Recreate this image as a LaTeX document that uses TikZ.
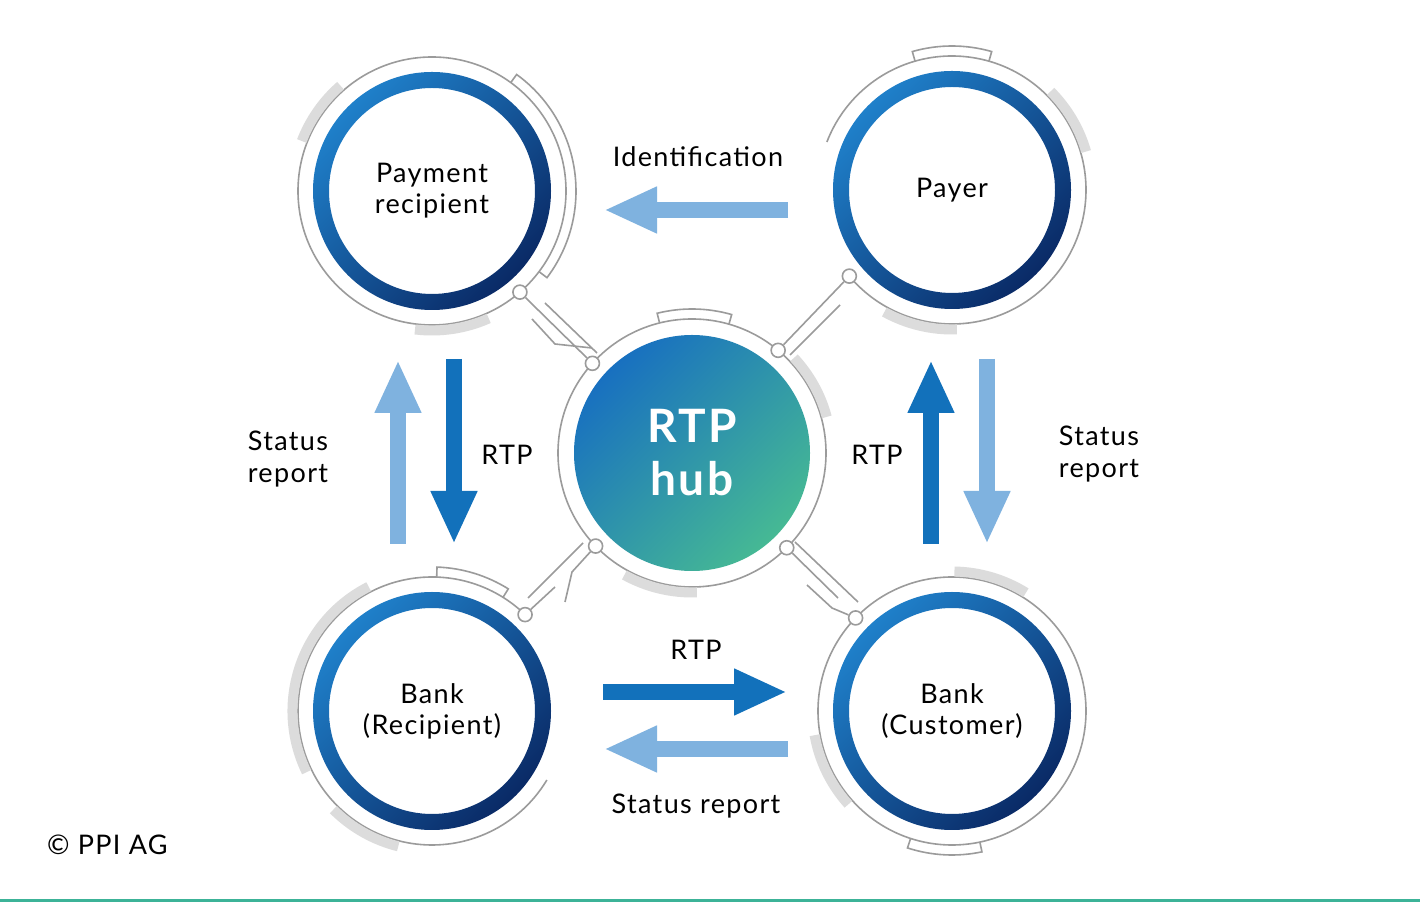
\documentclass[tikz,border=0pt]{standalone}
\usepackage{fontspec}
\setmainfont{Lato}[LetterSpace=5]
\usetikzlibrary{arrows.meta,positioning}

\definecolor{ringlight}{HTML}{1F80CA}
\definecolor{ringdark}{HTML}{0A2A66}
\definecolor{hubblue}{HTML}{1870C0}
\definecolor{hubgreen}{HTML}{46B994}
\definecolor{rtpblue}{HTML}{1271BB}
\definecolor{statusblue}{HTML}{7FB2DF}
\definecolor{linegrey}{HTML}{9B9B9B}
\definecolor{archgrey}{HTML}{DCDCDC}
\definecolor{tealline}{HTML}{3CB398}

\tikzset{
  member/.style={circle, minimum size=103pt, align=center, font=\fontsize{13.5}{15.5}\selectfont},
  bluering/.style={top color=ringlight, bottom color=ringdark, shading angle=45, even odd rule},
  thinring/.style={draw=linegrey, line width=0.8pt},
  greyarc/.style={draw=archgrey, line width=5pt},
  knob/.style={circle, draw=linegrey, fill=white, line width=0.8pt, inner sep=0pt, minimum size=7pt},
  flowlabel/.style={align=center, font=\fontsize{13.5}{16}\selectfont},
  rtparrow/.style={draw=rtpblue, line width=8pt, -{Triangle[length=26.5pt,width=21.5pt]}},
  statusarrow/.style={draw=statusblue, line width=8pt, -{Triangle[length=26.5pt,width=21.5pt]}}
}

\begin{document}
\begin{tikzpicture}[x=0.5pt, y=0.5pt]
	\useasboundingbox (0,0) rectangle (1420,905);
	\fill[white] (0,0) rectangle (1420,905);

	% members and hub
	\node[member] (pr) at (432,714) {Payment\\recipient}; %% payment recipient
	\node[member] (py) at (952,715) {Payer}; %% payer
	\node[member] (br) at (432,194) {Bank\\(Recipient)}; %% bank of recipient
	\node[member] (bc) at (952,194) {Bank\\(Customer)}; %% bank of customer
	\node[circle, minimum size=118pt, top color=hubblue, bottom color=hubgreen, shading angle=45,
		text=white, align=center, font=\fontsize{23}{26.5}\selectfont\bfseries] (hub) at (692,452) {RTP\\hub}; %% hub

	% blue rings
	\foreach \m in {pr,py,br,bc}
		\path[bluering] (\m.center) circle[radius=119] circle[radius=103];

	% thin outer rings
	\draw[thinring] (pr.center) circle[radius=134];
	\draw[thinring] (py.center) ++(-140:134) arc[start angle=-140, end angle=159, radius=134];
	\draw[thinring] (br.center) ++(46:134) arc[start angle=46, end angle=329, radius=134];
	\draw[thinring] (bc.center) circle[radius=134];
	\draw[thinring] (hub.center) circle[radius=134];

	% brackets
	\draw[thinring] (pr.center) ++(-37:134) -- ++(-37:10) arc[start angle=-37, end angle=54, radius=144] -- ++(54:-10);
	\draw[thinring] (py.center) ++(74:134) -- ++(74:10) arc[start angle=74, end angle=106, radius=144] -- ++(106:-10);
	\draw[thinring] (hub.center) ++(74:134) -- ++(74:10) arc[start angle=74, end angle=104, radius=144] -- ++(104:-10);
	\draw[thinring] (br.center) ++(58:134) -- ++(58:10) arc[start angle=58, end angle=88, radius=144] -- ++(88:-10);
	\draw[thinring] (bc.center) ++(-108:134) -- ++(-108:10) arc[start angle=-108, end angle=-78, radius=144] -- ++(-78:-10);

	% light grey arcs
	\draw[greyarc] (pr.center) ++(131:139.5) arc[start angle=131, end angle=159, radius=139.5];
	\draw[greyarc] (pr.center) ++(-97:139.5) arc[start angle=-97, end angle=-66, radius=139.5];
	\draw[greyarc] (py.center) ++(16:139.5) arc[start angle=16, end angle=45, radius=139.5];
	\draw[greyarc] (py.center) ++(-119:139.5) arc[start angle=-119, end angle=-88, radius=139.5];
	\draw[greyarc] (hub.center) ++(15:139.5) arc[start angle=15, end angle=43, radius=139.5];
	\draw[greyarc] (hub.center) ++(-119:139.5) arc[start angle=-119, end angle=-88, radius=139.5];
	\draw[greyarc] (br.center) ++(117:139.5) arc[start angle=117, end angle=206, radius=139.5];
	\draw[greyarc] (br.center) ++(225:139.5) arc[start angle=225, end angle=256, radius=139.5];
	\draw[greyarc] (bc.center) ++(58:139.5) arc[start angle=58, end angle=89, radius=139.5];
	\draw[greyarc] (bc.center) ++(190:139.5) arc[start angle=190, end angle=222, radius=139.5];

	% knobs
	\path (pr.center) ++(-49:134) node[knob] (kpr) {};
	\path (py.center) ++(220:134) node[knob] (kpy) {};
	\path (br.center) ++(46:134) node[knob] (kbr) {};
	\path (bc.center) ++(136:134) node[knob] (kbc) {};
	\path (hub.center) ++(138:134) node[knob] (khpr) {};
	\path (hub.center) ++(50:134) node[knob] (khpy) {};
	\path (hub.center) ++(224:134) node[knob] (khbr) {};
	\path (hub.center) ++(-45:134) node[knob] (khbc) {};

	% traces to the hub
	\coordinate (t1a) at (545,602); \coordinate (t1b) at (597,552);
	\coordinate (t1c) at (532,586); \coordinate (t1d) at (555,561); \coordinate (t1e) at (592,557);
	\draw[thinring] (kpr) -- (khpr);
	\draw[thinring] (t1a) -- (t1b);
	\draw[thinring] (t1c) -- (t1d) -- (t1e);

	\coordinate (t2a) at (840,600); \coordinate (t2b) at (790,550);
	\draw[thinring] (kpy) -- (khpy);
	\draw[thinring] (t2a) -- (t2b);

	\coordinate (t3a) at (572,333); \coordinate (t3b) at (565,303); \coordinate (t3c) at (555,318);
	\coordinate (t3d) at (583,362); \coordinate (t3e) at (528,307);
	\draw[thinring] (khbr) -- (t3a) -- (t3b);
	\draw[thinring] (kbr) -- (t3c);
	\draw[thinring] (t3d) -- (t3e);

	\coordinate (t4a) at (795,363); \coordinate (t4b) at (858,303); \coordinate (t4c) at (838,307);
	\coordinate (t4d) at (807,320); \coordinate (t4e) at (832,297);
	\draw[thinring] (t4a) -- (t4b);
	\draw[thinring] (khbc) -- (t4c);
	\draw[thinring] (t4d) -- (t4e) -- (kbc);

	% flow arrows
	\coordinate (idtail) at (788,695); \coordinate (idtip) at (604,695);
	\coordinate (sltail) at (398,361); \coordinate (sltip) at (398,545);
	\coordinate (rltail) at (454,546); \coordinate (rltip) at (454,361);
	\coordinate (rrtail) at (931,361); \coordinate (rrtip) at (931,545);
	\coordinate (srtail) at (987,546); \coordinate (srtip) at (987,361);
	\coordinate (rbtail) at (603,213); \coordinate (rbtip) at (787,213);
	\coordinate (sbtail) at (788,156); \coordinate (sbtip) at (604,156);
	\draw[statusarrow] (idtail) -- (idtip); %% identification
	\draw[statusarrow] (sltail) -- (sltip); %% status report up
	\draw[rtparrow] (rltail) -- (rltip); %% rtp down
	\draw[rtparrow] (rrtail) -- (rrtip); %% rtp up
	\draw[statusarrow] (srtail) -- (srtip); %% status report down
	\draw[rtparrow] (rbtail) -- (rbtip); %% rtp right
	\draw[statusarrow] (sbtail) -- (sbtip); %% status report left

	% labels
	\node[flowlabel] (idlbl) at (698,748) {Identification};
	\node[flowlabel] (srleft) at (288,446) {Status\\report};
	\node[flowlabel] (rtpleft) at (507,450) {RTP};
	\node[flowlabel] (rtpright) at (877,450) {RTP};
	\node[flowlabel] (srright) at (1099,451) {Status\\report};
	\node[flowlabel] (rtpbottom) at (696,255) {RTP};
	\node[flowlabel] (srbottom) at (696,99) {Status report};
	\node[flowlabel, anchor=west] (copyr) at (40,60) {© PPI AG};

	% bottom rule
	\draw[draw=tealline, line width=1.5pt] (0,4) -- (1420,4);
\end{tikzpicture}
\end{document}
